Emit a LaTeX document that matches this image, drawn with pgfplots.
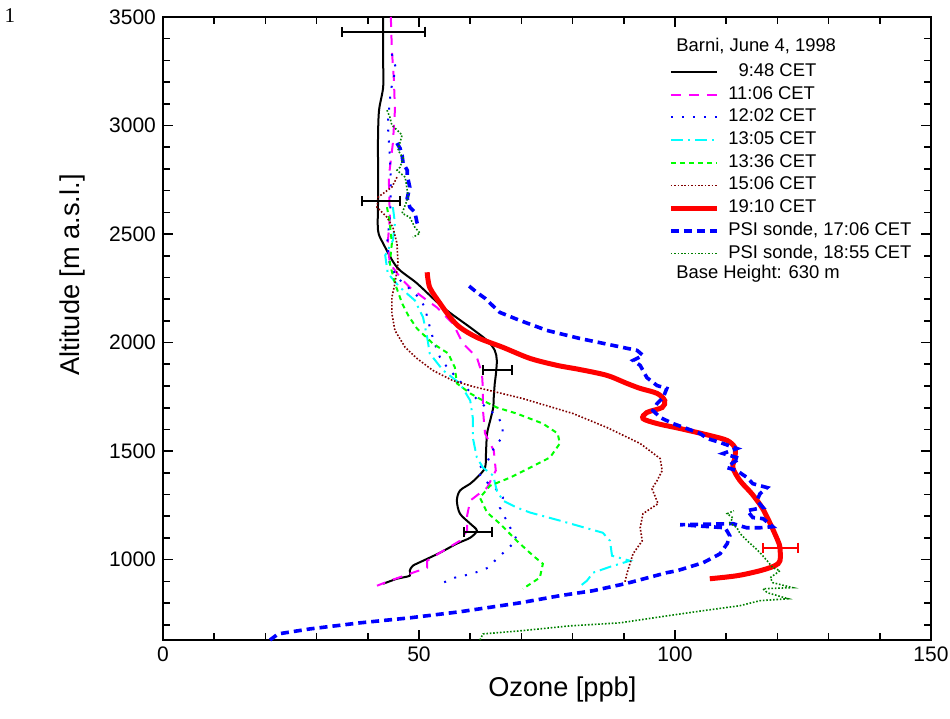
\documentclass[border=0pt]{standalone}
\usepackage{fontspec}
\setmainfont{Liberation Sans}
\newfontfamily\seriffont{Liberation Serif}
\usepackage{pgfplots}
\pgfplotsset{compat=1.18}

\definecolor{brownred}{RGB}{128,0,0}
\definecolor{sondegreen}{RGB}{0,128,0}
\definecolor{pmag}{RGB}{255,0,255}
\definecolor{pcyan}{RGB}{0,255,255}
\definecolor{pgreen}{RGB}{0,255,0}
\definecolor{pblue}{RGB}{0,0,255}
\definecolor{pred}{RGB}{255,0,0}

\begin{document}
\begin{tikzpicture}
\begin{axis}[
    scale only axis,
    width=384pt, height=311.5pt,
    xmin=0, xmax=150, ymin=630, ymax=3500,
    xtick={0,50,100,150}, minor xtick={10,20,30,40,60,70,80,90,110,120,130,140},
    ytick={1000,1500,2000,2500,3000,3500},
    minor ytick={700,800,900,1100,1200,1300,1400,1600,1700,1800,1900,2100,2200,2300,2400,2600,2700,2800,2900,3100,3200,3300,3400},
    tick align=inside,
    major tick length=5pt, minor tick length=3.5pt,
    every tick/.style={black, line width=0.8pt},
    axis line style={line width=1pt},
    /pgf/number format/assume math mode=true,
    /pgf/number format/1000 sep={},
    tick label style={font=\fontsize{10.5}{12}\selectfont},
    xlabel={Ozone [ppb]}, ylabel={Altitude [m a.s.l.]},
    label style={font=\fontsize{13.6}{16}\selectfont},
    xlabel style={at={(axis description cs:0.52,-0.080)}, anchor=center},
    ylabel style={at={(axis description cs:-0.118,0.586)}, anchor=center},
    clip=false,
    legend cell align=left,
    legend image code/.code={\draw[#1] (0pt,0pt) -- (23pt,0pt);},
    legend style={at={(axis cs:97.45,3320)}, anchor=north west, draw=none, fill=none,
        font=\fontsize{9.2}{11}\selectfont, row sep=0pt,
        nodes={inner sep=0pt, text height=8pt, text depth=3.35pt},
        /tikz/every odd column/.append style={column sep=4.5pt}},
]
% 9:48 CET
\addplot[black, line width=1pt, smooth] coordinates {
(43.0,3500) (43.0,3300) (43.0,3177) (42.2,3071) (42.0,2950) (42.0,2800) (42.0,2650)
(42.0,2517) (43.0,2457) (45.7,2347) (49.6,2273) (54.7,2162) (60.0,2070) (63.3,2010)
(64.8,1964) (65.2,1918) (65.0,1850) (64.8,1812) (64.6,1747) (64.5,1701) (63.9,1641)
(63.3,1581) (63.1,1503) (62.9,1424) (61.3,1378) (60.0,1350) (58.0,1318) (57.4,1272)
(58.0,1212) (60.0,1166) (61.3,1134) (60.0,1101) (57.4,1074) (54.1,1032) (50.8,995)
(48.8,972) (48.2,949) (48.2,926) (45.7,912) (43.0,889)};
\addlegendentry{\phantom{1}9:48 CET}
% 11:06 CET
\addplot[pmag, line width=1pt, dash pattern=on 5pt off 4pt] coordinates {
(44.5,3500) (44.7,3348) (45.1,3209) (45.3,3071) (44.9,2919) (44.5,2840) (44.1,2762)
(44.3,2577) (43.9,2457) (44.3,2365) (46.3,2301) (48.2,2254) (50.8,2208) (53.5,2162)
(56.6,2088) (58.6,1996) (61.3,1932) (62.3,1858) (62.5,1779) (62.5,1687) (62.9,1581)
(64.6,1503) (65.0,1410) (63.3,1332) (60.0,1272) (59.4,1203) (59.4,1134) (58.0,1087)
(54.1,1032) (51.6,995) (51.6,963) (48.2,935) (44.3,903) (41.8,880)};
\addlegendentry{11:06 CET}
% 12:02 CET
\addplot[pblue, line width=1pt, dash pattern=on 1pt off 4.5pt] coordinates {
(44.7,3330) (44.9,3311) (45.5,3265) (44.5,3163) (43.9,3011) (44.2,2900) (44.5,2750)
(44.4,2600) (43.75,2450) (44.3,2360) (45.7,2300) (47.7,2258) (49.8,2212) (51.2,2162)
(51.6,2116) (52.9,2005) (54.1,1932) (55.5,1886) (61.3,1739) (63.5,1693) (65.4,1660)
(66.4,1614) (66.2,1563) (64.5,1508) (63.3,1448) (61.3,1415) (62.5,1369) (64.8,1332)
(66.4,1286) (65.8,1240) (67.8,1148) (69.1,1092) (67.4,1051) (65.4,1009) (63.5,963)
(61.5,944) (59.4,930) (57.0,917) (55.1,898) (55.3,884)};
\addlegendentry{12:02 CET}
% 13:05 CET
\addplot[pcyan, line width=1pt, dash pattern=on 6pt off 2.5pt on 1pt off 2.5pt] coordinates {
(44.9,2624) (45.3,2550) (44.9,2471) (43.4,2402) (43.9,2319) (46.3,2254) (49.2,2194)
(50.8,2116) (51.6,2024) (52.1,1950) (54.7,1872) (58.0,1812) (60.0,1733) (60.5,1655)
(60.5,1563) (61.3,1471) (62.5,1424) (64.5,1387) (65.2,1318) (66.4,1272) (69.1,1240)
(71.7,1217) (77.5,1180) (85.9,1124) (87.3,1087) (87.7,1018) (91.2,995) (87.3,967)
(84.0,940) (82.8,903) (81.1,871)};
\addlegendentry{13:05 CET}
% 13:36 CET
\addplot[pgreen, line width=1pt, dash pattern=on 2.5pt off 2pt] coordinates {
(43.75,2624) (44.3,2550) (44.7,2457) (44.3,2365) (45.3,2273) (46.7,2181) (47.9,2125)
(49.6,2065) (52.7,1996) (55.7,1950) (57.0,1886) (57.4,1812) (60.0,1766) (62.5,1733)
(65.2,1701) (69.1,1673) (74.2,1627) (77.1,1581) (77.5,1535) (75.6,1471) (71.7,1424)
(67.8,1378) (63.9,1341) (61.9,1286) (63.3,1217) (65.8,1166) (69.1,1087) (72.3,1018)
(74.2,981) (73.6,917) (70.3,866)};
\addlegendentry{13:36 CET}
% 15:06 CET
\addplot[brownred, line width=0.8pt, dash pattern=on 0.8pt off 0.9pt] coordinates {
(45.7,2762) (44.7,2716) (42.0,2670) (41.8,2624) (43.75,2577) (44.9,2531) (45.7,2457)
(45.9,2365) (45.3,2273) (44.7,2208) (44.7,2135) (45.3,2056) (47.3,1978) (49.6,1927)
(52.7,1872) (56.6,1825) (60.5,1798) (70.3,1742) (80.1,1673) (86.7,1609) (93.2,1535)
(97.1,1466) (97.5,1410) (96.5,1364) (95.5,1327) (96.7,1258) (93.75,1212) (93.2,1147)
(93.6,1087) (91.8,1027) (91.2,981) (90.6,935) (90.2,894)};
\addlegendentry{15:06 CET}
% 19:10 CET
\addplot[pred, line width=2.5pt, smooth] coordinates {
(51.6,2324) (52.1,2254) (54.1,2181) (56.1,2116) (58.0,2070) (61.3,2024) (66.4,1978)
(71.7,1927) (77.0,1895) (81.4,1876) (86.7,1849) (90.6,1812) (93.2,1789) (96.5,1766)
(98.0,1733) (97.5,1701) (94.5,1678) (93.75,1650) (96.5,1627) (101.0,1604) (106.8,1572)
(110.2,1549) (111.7,1516) (111.7,1470) (111.3,1424) (112.7,1364) (115.0,1304)
(117.0,1240) (118.6,1166) (120.1,1087) (120.5,1055) (120.5,995) (119.5,972)
(116.6,949) (112.1,926) (106.8,912)};
\addlegendentry{19:10 CET}
% PSI sonde 17:06 CET
\addplot[pblue, line width=1.8pt, dash pattern=on 4pt off 2.5pt] coordinates {
(20.9,630) (22.5,658) (28.7,681) (38.5,709) (48.2,732) (58.0,760) (69.7,801)
(77.5,834) (84.0,857) (90.6,891) (98.4,940) (100.4,949) (105.5,986) (108.8,1027)
(110.2,1074) (110.7,1110) (109.8,1147) (101.0,1161) (111.3,1166) (114.0,1147)
(116.6,1147) (119.1,1152) (117.2,1189) (115.2,1194) (114.1,1226) (117.2,1240)
(116.0,1272) (116.6,1304) (118.0,1332) (115.2,1350) (114.1,1378) (112.1,1410)
(110.2,1424) (111.3,1447) (112.7,1466) (109.4,1489) (112.1,1512) (108.8,1540)
(106.3,1558) (104.9,1581) (102.3,1604) (99.6,1627) (97.1,1655) (95.7,1687)
(96.5,1719) (97.7,1747) (98.4,1789) (96.5,1802) (94.5,1839) (93.2,1895) (91.8,1918)
(93.75,1941) (92.6,1964) (87.9,1987) (81.4,2019) (75.0,2056) (69.7,2102) (65.8,2139)
(63.9,2181) (62.9,2204) (61.3,2231) (59.6,2264) (59.4,2273)};
\addlegendentry{PSI sonde, 17:06 CET}
% PSI sonde 18:55 CET
\addplot[sondegreen, line width=0.8pt, dash pattern=on 0.8pt off 0.9pt] coordinates {
(61.9,630) (62.5,658) (69.7,672) (79.5,695) (89.3,709) (98.4,741) (105.5,765)
(112.7,788) (116.6,811) (122.1,820) (118.0,848) (117.2,866) (123.0,871) (119.1,894)
(118.6,917) (120.5,949) (119.1,963) (118.0,995) (116.6,1032) (115.2,1064) (114.1,1087)
(112.7,1120) (112.1,1147) (110.7,1170) (111.3,1193) (110.2,1212) (111.5,1225)};
\addlegendentry{PSI sonde, 18:55 CET}
% upper parts of the sonde profiles
\addplot[pblue, line width=1.8pt, dash pattern=on 4pt off 2.5pt, forget plot] coordinates {
(45.7,2919) (46.3,2895) (46.7,2863) (46.9,2826) (47.7,2794) (47.7,2771) (48.2,2716)
(47.7,2665) (48.2,2624) (49.2,2600) (49.6,2554) (49.8,2540)};
\addplot[sondegreen, line width=0.8pt, dash pattern=on 0.8pt off 0.9pt, forget plot] coordinates {
(43.75,3071) (44.3,3039) (44.7,3002) (45.7,2979) (46.7,2956) (46.3,2923) (45.9,2886)
(46.9,2850) (46.3,2808) (45.7,2794) (47.3,2762) (47.7,2702) (47.9,2670) (46.7,2596)
(48.2,2577) (49.2,2531) (50.2,2504) (48.8,2485)};
% error bars
\addplot[draw=none, mark=none, forget plot,
    error bars/.cd, x dir=both, x explicit,
    error bar style={black, line width=1pt},
    error mark options={black, mark size=2.5pt, line width=1pt, rotate=90}]
    coordinates {
    (43.1,3432) +- (8.1,0)
    (42.5,2651) +- (3.7,0)
    (65.3,1872) +- (2.8,0)
    (61.5,1129) +- (2.8,0)};
\addplot[draw=none, mark=none, forget plot,
    error bars/.cd, x dir=both, x explicit,
    error bar style={pred, line width=1pt},
    error mark options={pred, mark size=2.5pt, line width=1pt, rotate=90}]
    coordinates {(120.6,1056) +- (3.5,0)};
% legend title and footer
\node[anchor=west, inner sep=0pt, font=\fontsize{9.2}{11}\selectfont] at (axis cs:100.2,3366) {Barni, June 4, 1998};
\node[anchor=west, inner sep=0pt, font=\fontsize{9.2}{11}\selectfont] at (axis cs:100.2,2319) {Base Height: 630 m};
\node[font=\seriffont\fontsize{10.5}{12}\selectfont] at (axis cs:-29.9,3505) {1};
\coordinate (bl) at (rel axis cs:0,0);
\coordinate (tr) at (rel axis cs:1,1);
\end{axis}
\pgfresetboundingbox
\useasboundingbox ([xshift=-81.5pt,yshift=-39.5pt]bl) rectangle ([xshift=9.5pt,yshift=8.5pt]tr);
\end{tikzpicture}
\end{document}
